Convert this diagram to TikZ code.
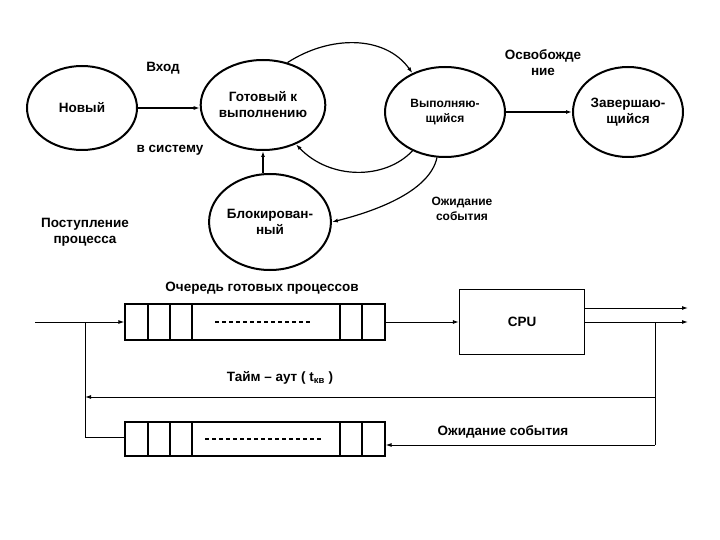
\documentclass[tikz,border=0pt]{standalone}
\usepackage{fontspec}
\setmainfont{Liberation Sans}
\usetikzlibrary{arrows.meta,shapes.geometric}
\begin{document}
\begin{tikzpicture}[x=1pt,y=-1pt,
  st/.style={draw,line width=2pt,ellipse,inner sep=0pt},
  lb/.style={font=\fontsize{13.5}{16}\selectfont\bfseries,align=center},
  ls/.style={font=\fontsize{12}{15}\selectfont\bfseries,align=center},
  ar/.style={-{Latex[length=6pt,width=4pt]},line width=1.2pt},
  ln/.style={line width=1pt},
  q/.style={draw,line width=1.2pt}]
\useasboundingbox (0,0) rectangle (720,540);
% states
\node[st,minimum width=110pt,minimum height=84pt,lb] (new) at (82,108) {Новый};
\node[st,minimum width=116pt,minimum height=90pt,lb] (rdy) at (263,105) {Готовый к\\выполнению};
\node[st,minimum width=120pt,minimum height=90pt,ls] (run) at (445,112) {Выполняю-\\щийся};
\node[st,minimum width=110pt,minimum height=90pt,lb] (end) at (628,112) {Завершаю-\\щийся};
\node[st,minimum width=120pt,minimum height=96pt,lb] (blk) at (270,222) {Блокирован-\\ный};
\draw[ar] (new.east) -- (rdy.west|-new.east);
\draw[ar] (run.east) -- (end.west);
\draw[ar] (blk.north-|rdy.south) -- (rdy.south);
\draw[ar] (rdy.60) .. controls (330,35) and (385,35) .. (run.130);
\draw[ar] (run.-130) .. controls (385,180) and (330,180) .. (rdy.-50);
\draw[ar] (run.-100) .. controls (430,190) and (380,210) .. (blk.east);
\node[lb] (t1) at (163,68) {Вход};
\node[lb] (t2) at (170,150) {в систему};
\node[lb] (t3) at (543,63) {Освобожде\\ние};
\node[lb] (t4) at (85,232) {Поступление\\процесса};
\node[ls] (t5) at (462,209) {Ожидание\\события};
% queues
\node[q,minimum width=260pt,minimum height=36pt,inner sep=0pt] (q1) at (255,322) {};
\node[q,minimum width=260pt,minimum height=34pt,inner sep=0pt] (q2) at (255,439) {};
\foreach \qq in {q1,q2}{
 \foreach \xx in {148,170,192,340,362}{\draw[line width=1.2pt] (\xx,0|-\qq.north) -- (\xx,0|-\qq.south);}
}
\draw[line width=2.5pt,dash pattern=on 4pt off 3pt] (215,322) -- (312,322);
\draw[line width=2.5pt,dash pattern=on 4pt off 3pt] (205,439) -- (322,439);
\node[q,minimum width=125pt,minimum height=65pt,inner sep=0pt,lb] (cpu) at (522,322) {CPU};
\coordinate (in) at (35,322);
\coordinate (o1) at (688,308);
\coordinate (o2) at (688,322);
\coordinate (r1) at (655,322);
\coordinate (r2) at (655,445);
\coordinate (r3) at (655,397);
\coordinate (l1) at (85,397);
\coordinate (l2) at (85,322);
\draw[ar,line width=1pt] (in) -- (q1.west);
\draw[ar,line width=1pt] (q1.east) -- (cpu.west);
\draw[ar,line width=1pt] (cpu.east|-o1) -- (o1);
\draw[ar,line width=1pt] (cpu.east|-o2) -- (o2);
\draw[ln] (r1) -- (r2);
\draw[ar,line width=1pt] (r3) -- (l1);
\draw[ar,line width=1pt] (r2) -- (q2.east|-r2);
\draw[ln] (l2) -- (85,437) -- (q2.west|-0,437);
\node[lb] (t6) at (262,288) {Очередь готовых процессов};
\node[lb] (t7) at (280,378) {Тайм – аут ( t\textsubscript{кв} )};
\node[lb] (t8) at (503,432) {Ожидание события};
\end{tikzpicture}
\end{document}
